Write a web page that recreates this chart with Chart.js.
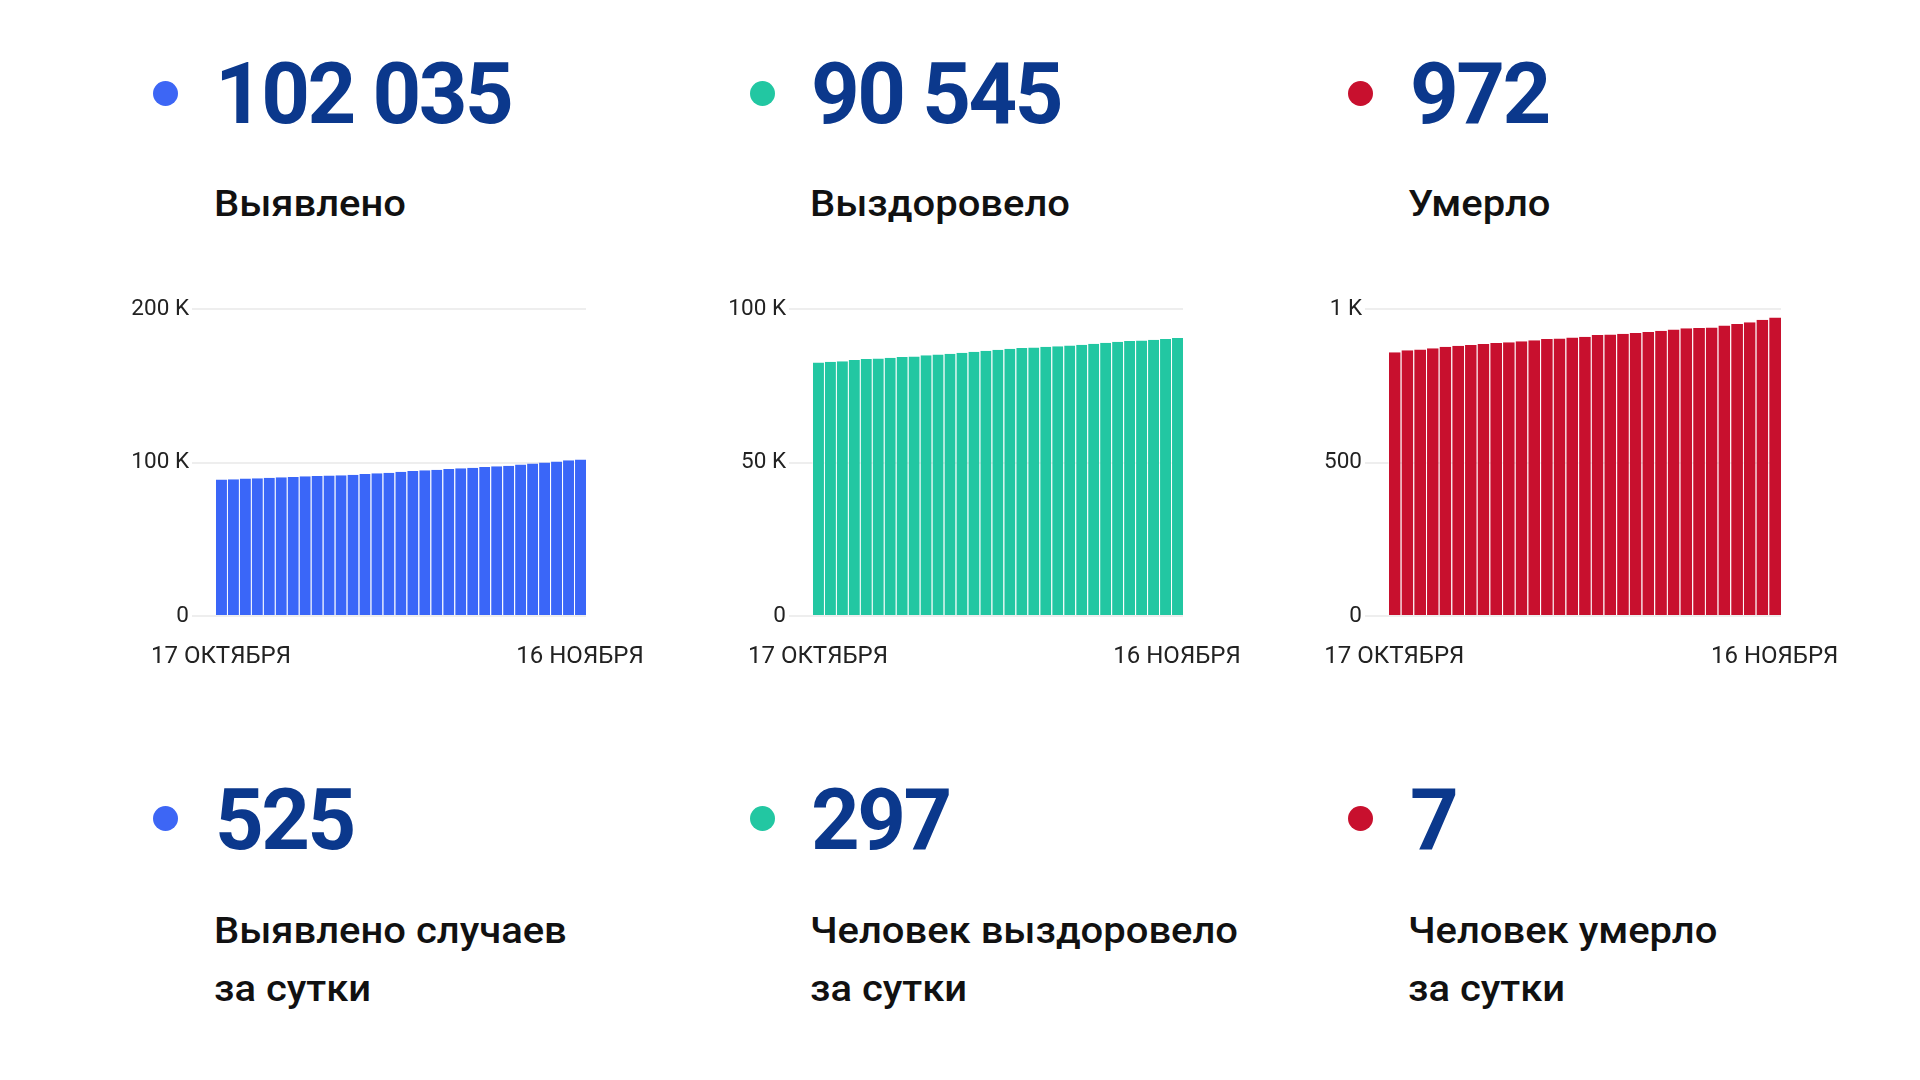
<!DOCTYPE html>
<html>
<head>
<meta charset="utf-8">
<script src="https://cdn.jsdelivr.net/npm/chart.js"></script>
<style>
  body { margin: 0; width: 1920px; height: 1080px; background: #fff; position: relative; overflow: hidden; font-family: Roboto, sans-serif; }
  .dot { position: absolute; width: 25px; height: 25px; border-radius: 50%; }
  .num { position: absolute; font-size: 85px; line-height: 85px; font-weight: 700; color: #0b388c; letter-spacing: -2.5px; white-space: nowrap; }
  .lbl { position: absolute; font-size: 36px; line-height: 58.4px; font-weight: 500; color: #111; white-space: nowrap; transform: scaleX(1.11); transform-origin: left top; }
  canvas { position: absolute; }
</style>
</head>
<body>
<div class="dot" style="left:153px;top:81px;background:#3d66f5"></div>
<div class="num" style="left:215px;top:52px">102 035</div>
<div class="lbl" style="left:214px;top:175px">Выявлено</div>

<div class="dot" style="left:750px;top:81px;background:#22c7a2"></div>
<div class="num" style="left:811px;top:52px">90 545</div>
<div class="lbl" style="left:810px;top:175px">Выздоровело</div>

<div class="dot" style="left:1348px;top:81px;background:#c8102e"></div>
<div class="num" style="left:1410px;top:52px">972</div>
<div class="lbl" style="left:1408px;top:175px">Умерло</div>

<div class="dot" style="left:153px;top:806px;background:#3d66f5"></div>
<div class="num" style="left:215px;top:778px">525</div>
<div class="lbl" style="left:214px;top:902px">Выявлено случаев<br>за сутки</div>

<div class="dot" style="left:750px;top:806px;background:#22c7a2"></div>
<div class="num" style="left:811px;top:778px">297</div>
<div class="lbl" style="left:810px;top:902px">Человек выздоровело<br>за сутки</div>

<div class="dot" style="left:1348px;top:806px;background:#c8102e"></div>
<div class="num" style="left:1410px;top:778px">7</div>
<div class="lbl" style="left:1408px;top:902px">Человек умерло<br>за сутки</div>

<canvas id="cases"></canvas>
<canvas id="recovered"></canvas>
<canvas id="deaths"></canvas>

<script>
// 17 октября - 16 ноября
const days = [
  '17 ОКТЯБРЯ', '18 ОКТЯБРЯ', '19 ОКТЯБРЯ', '20 ОКТЯБРЯ', '21 ОКТЯБРЯ', '22 ОКТЯБРЯ',
  '23 ОКТЯБРЯ', '24 ОКТЯБРЯ', '25 ОКТЯБРЯ', '26 ОКТЯБРЯ', '27 ОКТЯБРЯ', '28 ОКТЯБРЯ',
  '29 ОКТЯБРЯ', '30 ОКТЯБРЯ', '31 ОКТЯБРЯ', '1 НОЯБРЯ', '2 НОЯБРЯ', '3 НОЯБРЯ',
  '4 НОЯБРЯ', '5 НОЯБРЯ', '6 НОЯБРЯ', '7 НОЯБРЯ', '8 НОЯБРЯ', '9 НОЯБРЯ',
  '10 НОЯБРЯ', '11 НОЯБРЯ', '12 НОЯБРЯ', '13 НОЯБРЯ', '14 НОЯБРЯ', '15 НОЯБРЯ', '16 НОЯБРЯ'
];

const cases = [
  88900, 89150, 89500, 89750, 90000, 90400, 90600, 91000, 91250, 91450, 91700,
  92100, 92550, 93000, 93400, 94000, 94450, 94900, 95300, 95750, 96200, 96600,
  97050, 97500, 97950, 98700, 99300, 99950, 100700, 101510, 102035
];

const recovered = [
  82600, 82800, 83000, 83350, 83700, 83900, 84100, 84350, 84550, 84900, 85200,
  85450, 85750, 86100, 86400, 86750, 87050, 87300, 87500, 87700, 87900, 88150,
  88350, 88700, 89000, 89300, 89550, 89750, 89950, 90248, 90545
];

const deaths = [
  859, 866, 868, 872, 877, 880, 883, 886, 889, 892, 895,
  898, 902, 904, 907, 910, 915, 917, 919, 922, 925, 929,
  933, 937, 938, 940, 946, 951, 957, 965, 972
];

Chart.defaults.font.family = 'Roboto';
Chart.defaults.color = '#222';

const Y_AXIS_W = 110;
const X_AXIS_H = 70;
const PAD_TOP = 30;
const PAD_RIGHT = 90;

function kFormat(v) {
  return v >= 1000 ? (v / 1000) + ' K' : String(v);
}

function makeChart(id, values, color, yMax, yStep, area) {
  const canvas = document.getElementById(id);
  canvas.width = Y_AXIS_W + area.w + PAD_RIGHT;
  canvas.height = PAD_TOP + area.h + X_AXIS_H;
  canvas.style.left = (area.x - Y_AXIS_W) + 'px';
  canvas.style.top = (area.y - PAD_TOP) + 'px';

  return new Chart(canvas.getContext('2d'), {
    type: 'bar',
    data: {
      labels: days,
      datasets: [{
        data: values,
        backgroundColor: color,
        borderColor: 'rgba(255,255,255,0.5)',
        borderWidth: { left: 1, right: 0, top: 0, bottom: 0 },
        borderSkipped: false,
        inflateAmount: 0,
        barPercentage: 1,
        categoryPercentage: 1
      }]
    },
    options: {
      responsive: false,
      animation: false,
      devicePixelRatio: 1,
      layout: { padding: { top: PAD_TOP, right: PAD_RIGHT, left: 0, bottom: 0 } },
      plugins: { legend: { display: false }, tooltip: { enabled: false } },
      scales: {
        x: {
          offset: true,
          grid: { display: false, drawTicks: false },
          border: { display: false },
          afterFit: (axis) => { axis.height = X_AXIS_H; },
          ticks: {
            autoSkip: false,
            maxRotation: 0,
            minRotation: 0,
            padding: 27,
            color: '#222',
            font: { size: 24 },
            callback: function (val, i) {
              return (i === 0 || i === days.length - 1) ? days[i] : '';
            }
          }
        },
        y: {
          min: 0,
          max: yMax,
          grid: { color: '#eeeeee', lineWidth: 2, tickLength: 23, drawTicks: true },
          border: { display: false },
          afterFit: (axis) => { axis.width = Y_AXIS_W; },
          ticks: {
            stepSize: yStep,
            padding: 3,
            color: '#222',
            font: { size: 22.5 },
            callback: kFormat
          }
        }
      }
    }
  });
}

makeChart('cases', cases, '#3a66f8', 200000, 100000, { x: 215, y: 309, w: 371, h: 307 });
makeChart('recovered', recovered, '#22c7a2', 100000, 50000, { x: 812, y: 309, w: 371, h: 307 });
makeChart('deaths', deaths, '#c8102e', 1000, 500, { x: 1388, y: 309, w: 393, h: 307 });
</script>
</body>
</html>
